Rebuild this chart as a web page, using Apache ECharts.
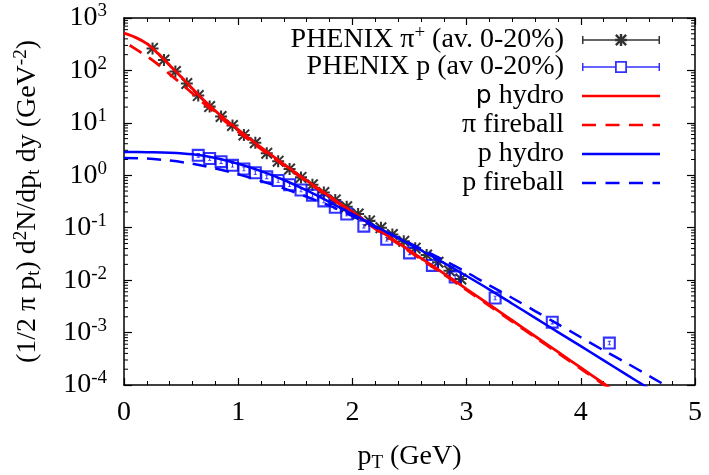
<!DOCTYPE html>
<html>
<head>
<meta charset="utf-8">
<script src="https://cdn.jsdelivr.net/npm/echarts@6/dist/echarts.min.js"></script>
<style>
html, body { margin: 0; padding: 0; background: #fff; }
#main { width: 709px; height: 475px; }
</style>
</head>
<body>
<div id="main"></div>
<script>
// PHENIX data (GeV, GeV^-2)
const pionPt = [0.25, 0.35, 0.45, 0.55, 0.65, 0.75, 0.85, 0.95, 1.05, 1.15, 1.25, 1.35, 1.45, 1.55,
    1.65, 1.75, 1.85, 1.95, 2.05, 2.15, 2.25, 2.35, 2.45, 2.55, 2.65, 2.75, 2.85, 2.95];
const pionYield = [263, 158, 95.5, 56.2, 33.1, 20.4, 13.2, 8.91, 5.89, 4.17, 2.63, 1.86, 1.32, 0.912,
    0.661, 0.468, 0.339, 0.251, 0.182, 0.135, 0.100, 0.0741, 0.0550, 0.0407, 0.0302, 0.0219, 0.0151, 0.0105];

const protonPt = [0.65, 0.75, 0.85, 0.95, 1.05, 1.15, 1.25, 1.35, 1.45, 1.55, 1.65, 1.75, 1.85, 1.95,
    2.1, 2.3, 2.5, 2.7, 2.9, 3.25, 3.75, 4.25];
const protonYield = [2.40, 2.09, 1.82, 1.55, 1.32, 1.12, 0.933, 0.794, 0.661, 0.525, 0.417, 0.324, 0.245, 0.182,
    0.107, 0.0603, 0.0331, 0.0191, 0.0115, 0.00457, 0.00158, 0.00063];

// model curves
const piHydroPt = [0, 0.1, 0.2, 0.3, 0.4, 0.5, 0.6, 0.7, 0.8, 0.9, 1.0, 1.2, 1.4, 1.6, 1.8, 2.0,
    2.2, 2.4, 2.6, 2.8, 3.0, 3.2, 3.4, 3.6, 3.8, 4.0, 4.2, 4.3];
const piHydro = [513, 427, 324, 209, 126, 75.9, 44.7, 26.9, 17.0, 11.0, 7.41, 3.39, 1.62, 0.794, 0.398, 0.200,
    0.100, 0.0513, 0.0263, 0.0135, 0.00676, 0.00339, 0.00170, 0.000851, 0.000427, 0.000214, 0.000107, 0.0000759];

const piFireballPt = [0.05, 0.1, 0.2, 0.3, 0.4, 0.5, 0.6, 0.7, 0.8, 1.0, 1.2, 1.4, 1.6, 1.8, 2.0,
    2.2, 2.4, 2.6, 2.8, 3.0, 3.2, 3.4, 3.6, 3.8, 4.0, 4.2, 4.3];
const piFireball = [302, 257, 186, 129, 85.1, 56.2, 36.3, 23.4, 15.1, 6.76, 3.16, 1.55, 0.759, 0.380, 0.191,
    0.0955, 0.0490, 0.0251, 0.0129, 0.00646, 0.00324, 0.00162, 0.000813, 0.000407, 0.000204, 0.000102, 0.0000724];

const pHydroPt = [0, 0.2, 0.4, 0.6, 0.8, 1.0, 1.2, 1.4, 1.6, 1.8, 2.0, 2.2, 2.4, 2.6, 2.8,
    3.0, 3.2, 3.4, 3.6, 3.8, 4.0, 4.2, 4.4, 4.6];
const pHydro = [2.79, 2.75, 2.69, 2.51, 2.14, 1.66, 1.20, 0.813, 0.513, 0.309, 0.182, 0.107, 0.0631, 0.0372, 0.0214,
    0.0120, 0.00661, 0.00355, 0.00191, 0.00102, 0.000550, 0.000295, 0.000158, 0.0000851];

const pFireballPt = [0, 0.2, 0.4, 0.6, 0.8, 1.0, 1.2, 1.4, 1.6, 1.8, 2.0, 2.2, 2.4, 2.6, 2.8,
    3.0, 3.2, 3.4, 3.6, 3.8, 4.0, 4.2, 4.4, 4.6, 4.8];
const pFireball = [2.14, 2.09, 1.91, 1.66, 1.35, 1.05, 0.776, 0.562, 0.389, 0.263, 0.166, 0.102, 0.0646, 0.0398, 0.0240,
    0.0141, 0.00794, 0.00457, 0.00257, 0.00145, 0.000813, 0.000457, 0.000263, 0.000148, 0.0000832];

// axis decoration
const yDecades = [-4, -3, -2, -1, 0, 1, 2];
const yMinorMantissas = [2, 3, 4, 5, 6, 7, 8, 9];

const legendLabels = {
    'PHENIX π+ (av. 0-20%)': '{a|PHENIX π}{s|+}{a| (av. 0-20%)}',
    'PHENIX p (av 0-20%)': '{a|PHENIX p (av 0-20%)}',
    'π hydro': '{g|p}{a| hydro}',
    'π fireball': '{a|π fireball}',
    'p hydro': '{a|p hydro}',
    'p fireball': '{a|p fireball}'
};

const FONT = 'Liberation Serif';
const rich = {
    a: { fontFamily: FONT, fontSize: 28, lineHeight: 32, color: '#000' },
    g: { fontFamily: 'DejaVu Sans', fontSize: 25, lineHeight: 32, color: '#000' },
    s: { fontFamily: FONT, fontSize: 19, lineHeight: 19, verticalAlign: 'top', color: '#000' },
    u: { fontFamily: FONT, fontSize: 19, lineHeight: 19, verticalAlign: 'bottom', color: '#000' }
};

const zip = (xs, ys) => xs.map((x, i) => [x, ys[i]]);

const STAR = 'path://M0 8.3L20 8.3L20 11.7L0 11.7Z M8.3 0L11.7 0L11.7 20L8.3 20Z' +
    'M0 2.4L2.4 0L20 17.6L17.6 20Z M17.6 0L20 2.4L2.4 20L0 17.6Z';
const SQUARE = 'path://M0 0L20 0L20 20L0 20Z M3.2 3.2L3.2 16.8L16.8 16.8L16.8 3.2Z' +
    'M9.2 7L10.8 7L10.8 13L9.2 13Z M7.5 6.5L12.5 6.5L12.5 7.8L7.5 7.8Z M7.5 12.2L12.5 12.2L12.5 13.5L7.5 13.5Z';

const ICON_STAR = 'path://M0 2L1.5 2L1.5 10L0 10Z M76.5 2L78 2L78 10L76.5 10Z M0 5.3L78 5.3L78 6.7L0 6.7Z' +
    'M33 4.8L45 4.8L45 7.2L33 7.2Z M37.8 0L40.2 0L40.2 12L37.8 12Z' +
    'M33 1.7L34.7 0L45 10.3L43.3 12Z M43.3 0L45 1.7L34.7 12L33 10.3Z';
const ICON_SQUARE = 'path://M0 2L1.5 2L1.5 10L0 10Z M76.5 2L78 2L78 10L76.5 10Z' +
    'M0 5.3L33 5.3L33 6.7L0 6.7Z M45 5.3L78 5.3L78 6.7L45 6.7Z' +
    'M33 0L45 0L45 12L33 12Z M34.8 1.8L34.8 10.2L43.2 10.2L43.2 1.8Z';
const ICON_SOLID = 'path://M0 0L78 0L78 2.6L0 2.6Z';
const ICON_DASH = 'path://M0 0L14 0L14 2.6L0 2.6Z M23.5 0L37.5 0L37.5 2.6L23.5 2.6Z' +
    'M47 0L61 0L61 2.6L47 2.6Z M70.5 0L78 0L78 2.6L70.5 2.6Z';

const legendRows = [
    { name: 'PHENIX π+ (av. 0-20%)', icon: ICON_STAR, color: '#000000', y: 40 },
    { name: 'PHENIX p (av 0-20%)', icon: ICON_SQUARE, color: '#0000ff', y: 69 },
    { name: 'π hydro', icon: ICON_SOLID, color: '#ff0000', y: 98 },
    { name: 'π fireball', icon: ICON_DASH, color: '#ff0000', y: 127 },
    { name: 'p hydro', icon: ICON_SOLID, color: '#0000ff', y: 156 },
    { name: 'p fireball', icon: ICON_DASH, color: '#0000ff', y: 185 }
];

const minorTicks = [];
yDecades.forEach(e => yMinorMantissas.forEach(m => minorTicks.push([0, m * Math.pow(10, e)])));

const chart = echarts.init(document.getElementById('main'));

const xAxisBase = {
    type: 'value', min: 0, max: 5, interval: 1,
    axisLine: { show: true, onZero: false, lineStyle: { color: '#000', width: 1.5 } },
    axisTick: { show: true, inside: true, length: 7, lineStyle: { color: '#000', width: 1.2 } },
    minorTick: { show: true, splitNumber: 5, length: 4, lineStyle: { color: '#000', width: 1 } },
    splitLine: { show: false }
};
const yAxisBase = {
    type: 'log', logBase: 10, min: 1e-4, max: 1e3,
    axisLine: { show: true, onZero: false, lineStyle: { color: '#000', width: 1.5 } },
    axisTick: { show: true, inside: true, length: 8, lineStyle: { color: '#000', width: 1.2 } },
    splitLine: { show: false }
};

const option = {
    animation: false,
    backgroundColor: '#fff',
    grid: { left: 124, right: 14, top: 18, bottom: 90, outerBoundsMode: 'none' },
    xAxis: [
        Object.assign({}, xAxisBase, {
            position: 'bottom',
            axisLabel: { color: '#000', fontFamily: FONT, fontSize: 28, margin: 14 },
            name: '{a|p}{u|T}{a| (GeV)}',
            nameLocation: 'middle',
            nameGap: 56,
            nameTextStyle: { rich: rich }
        }),
        Object.assign({}, xAxisBase, { position: 'top', axisLabel: { show: false } })
    ],
    yAxis: [
        Object.assign({}, yAxisBase, {
            position: 'left',
            axisLabel: {
                margin: 17,
                formatter: v => '{a|10}{s|' + Math.round(Math.log10(v)) + '}',
                rich: rich
            },
            name: '{a|(1/2 π p}{u|t}{a|) d}{s|2}{a|N/dp}{u|t}{a| dy (GeV}{s|-2}{a|)}',
            nameLocation: 'middle',
            nameRotate: 90,
            nameGap: 80,
            nameTextStyle: { rich: rich }
        }),
        Object.assign({}, yAxisBase, { position: 'right', axisLabel: { show: false } })
    ],
    legend: legendRows.map(r => ({
        orient: 'vertical',
        align: 'right',
        right: 49,
        top: r.y - 16,
        padding: 0,
        itemWidth: 78,
        itemHeight: 12,
        selectedMode: false,
        formatter: n => legendLabels[n],
        textStyle: { fontFamily: FONT, fontSize: 28, color: '#000', padding: [0, 13, 0, 0], rich: rich },
        data: [{ name: r.name, icon: r.icon, itemStyle: { color: r.color, borderWidth: 0 } }]
    })),
    series: [
        {
            name: 'π hydro', type: 'line', data: zip(piHydroPt, piHydro), symbol: 'none', smooth: 0.3,
            lineStyle: { color: '#ff0000', width: 2.8 }, itemStyle: { color: '#ff0000' }
        },
        {
            name: 'π fireball', type: 'line', data: zip(piFireballPt, piFireball), symbol: 'none', smooth: 0.3,
            lineStyle: { color: '#ff0000', width: 2.8, type: [14, 9] }, itemStyle: { color: '#ff0000' }
        },
        {
            name: 'p hydro', type: 'line', data: zip(pHydroPt, pHydro), symbol: 'none', smooth: 0.3,
            lineStyle: { color: '#0000ff', width: 2.5 }, itemStyle: { color: '#0000ff' }
        },
        {
            name: 'p fireball', type: 'line', data: zip(pFireballPt, pFireball), symbol: 'none', smooth: 0.3,
            lineStyle: { color: '#0000ff', width: 2.5, type: [14, 9] }, itemStyle: { color: '#0000ff' }
        },
        {
            name: 'PHENIX π+ (av. 0-20%)', type: 'scatter', data: zip(pionPt, pionYield),
            symbol: STAR, symbolSize: 12, itemStyle: { color: '#000' }
        },
        {
            name: 'PHENIX p (av 0-20%)', type: 'scatter', data: zip(protonPt, protonYield),
            symbol: SQUARE, symbolSize: 13, itemStyle: { color: '#0000ff' }
        },
        {
            // log-spaced minor ticks (2..9 per decade) on both vertical sides of the frame
            name: 'minor', type: 'custom', data: minorTicks, silent: true,
            renderItem: (params, api) => {
                const l = api.coord([0, api.value(1)]);
                const r = api.coord([5, api.value(1)]);
                const st = { stroke: '#000', lineWidth: 1 };
                return {
                    type: 'group', children: [
                        { type: 'line', shape: { x1: l[0], y1: l[1], x2: l[0] + 4, y2: l[1] }, style: st },
                        { type: 'line', shape: { x1: r[0] - 4, y1: r[1], x2: r[0], y2: r[1] }, style: st }
                    ]
                };
            }
        }
    ]
};

chart.setOption(option);
</script>
</body>
</html>
